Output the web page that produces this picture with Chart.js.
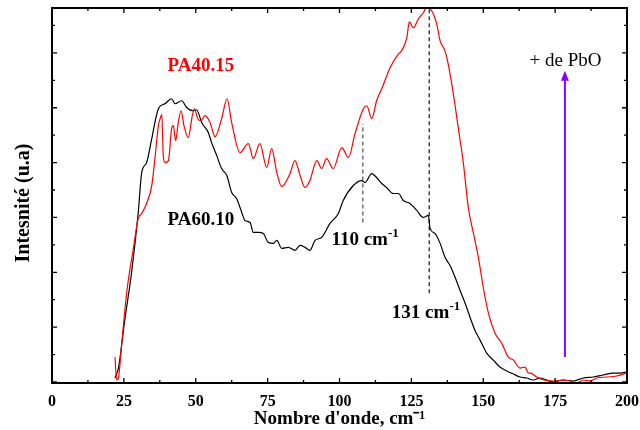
<!DOCTYPE html>
<html>
<head>
<meta charset="utf-8">
<script src="https://cdn.jsdelivr.net/npm/chart.js@4.4.1/dist/chart.umd.min.js"></script>
<style>
  html, body { margin: 0; padding: 0; background: #fff; }
  #wrap { width: 640px; height: 430px; }
</style>
</head>
<body>
<div id="wrap"><canvas id="raman"></canvas></div>
<script>
// PA60.10 (black)
const waveA = [21.9, 23.1, 25.4, 27.7, 30.0, 31.2, 32.9, 34.7, 37.0, 39.3, 41.6, 42.8, 45.1, 46.9, 49.1, 50.3, 52.1, 54.4, 55.5, 57.3, 59.0, 60.8, 62.5, 64.2, 66.0, 67.1, 68.9, 70.0, 71.8, 73.5, 75.2, 77.0, 78.2, 79.9, 82.2, 84.5, 86.3, 88.0, 89.7, 91.5, 93.8, 96.7, 99.6, 101.3, 104.8, 107.7, 108.9, 111.2, 112.9, 114.7, 116.4, 118.7, 120.5, 122.2, 124.5, 126.9, 129.1, 130.9, 131.5, 133.2, 135.0, 136.7, 138.4, 140.2, 141.9, 143.7, 145.4, 147.1, 148.9, 151.2, 153.5, 155.8, 158.2, 160.5, 162.8, 165.1, 167.4, 169.7, 172.1, 174.4, 177.8, 181.3, 184.8, 188.3, 191.8, 195.2, 197.6, 199.9];
const intA = [4, 14, 64, 110, 170, 210, 220, 244, 274, 279, 284, 279, 282, 275, 272, 273, 260, 250, 240, 227, 214, 207, 190, 184, 170, 162, 160, 150, 150, 149, 140, 139, 142, 134, 135, 132, 137, 135, 132, 142, 145, 159, 169, 182, 197, 202, 200, 209, 205, 199, 195, 189, 189, 182, 179, 172, 165, 167, 154, 149, 139, 125, 117, 105, 92, 79, 65, 52, 42, 29, 22, 15, 11, 8, 5, 4, 2, 4, 2, 0, 2, 1, 4, 5, 7, 9, 9, 10];

// PA40.15 (red)
const waveB = [21.9, 22.5, 23.1, 24.2, 26.0, 28.3, 30.0, 31.2, 32.9, 34.7, 35.8, 37.0, 37.6, 38.2, 38.7, 39.3, 40.5, 41.6, 42.2, 43.0, 43.9, 44.9, 45.9, 47.4, 48.8, 49.5, 50.7, 51.8, 53.2, 55.0, 56.7, 59.0, 60.9, 62.5, 65.4, 68.3, 70.0, 72.3, 74.7, 76.4, 78.2, 79.9, 82.8, 84.5, 86.3, 88.0, 89.7, 92.1, 93.8, 95.5, 97.8, 100.8, 103.1, 105.4, 108.3, 109.5, 111.2, 112.9, 114.7, 117.6, 120.5, 121.6, 123.4, 124.3, 125.7, 127.4, 129.1, 130.3, 132.1, 133.8, 135.0, 136.7, 137.8, 139.6, 141.3, 143.1, 144.8, 146.6, 148.3, 150.0, 151.8, 154.1, 156.4, 158.7, 160.5, 162.8, 164.5, 165.7, 166.3, 168.6, 171.0, 174.4, 177.8, 180.2, 182.5, 184.8, 187.1, 189.5, 193.0, 196.4, 199.9];
const intB = [25, 2, 4, 37, 90, 134, 164, 169, 179, 197, 224, 257, 264, 268, 227, 220, 222, 254, 257, 242, 260, 272, 257, 245, 267, 274, 264, 262, 267, 260, 246, 264, 284, 260, 230, 239, 224, 239, 215, 234, 210, 196, 209, 222, 207, 195, 202, 222, 214, 224, 214, 235, 225, 249, 274, 277, 264, 282, 294, 315, 329, 332, 345, 361, 355, 364, 370, 375, 372, 359, 342, 332, 319, 289, 255, 219, 175, 149, 125, 95, 69, 49, 39, 25, 22, 14, 15, 9, 9, 5, 2, 1, 2, 1, -1, 2, 1, 4, 5, 6, 9];

// band markers
const band110 = [108.1, 160, 259];   // x, y from, y to
const band131 = [131.2, 89, 374];
const arrowPbO = [178.4, 25, 312];

const xTicks = [0, 25, 50, 75, 100, 125, 150, 175, 200];
const yStep = 27.5;

const serif = "'Liberation Serif', 'Times New Roman', serif";

const toPts = (xs, ys) => xs.map((v, i) => ({ x: v, y: ys[i] }));

// frame, inner ticks, arrow and labels
const decor = {
    id: 'decor',
    afterDatasetsDraw(chart) {
        const { ctx, chartArea: a, scales: { x, y } } = chart;
        ctx.save();
        ctx.strokeStyle = '#000';
        ctx.lineWidth = 2;
        ctx.strokeRect(a.left, a.top, a.right - a.left, a.bottom - a.top);

        ctx.lineWidth = 1.3;
        ctx.beginPath();
        for (let v = 0; v <= 200; v += 12.5) {
            const px = x.getPixelForValue(v);
            const len = v % 25 === 0 ? 5 : 3;
            ctx.moveTo(px, a.bottom); ctx.lineTo(px, a.bottom - len);
            ctx.moveTo(px, a.top); ctx.lineTo(px, a.top + len);
        }
        for (let k = 0; k * yStep <= y.max; k++) {
            const py = y.getPixelForValue(k * yStep);
            const len = k % 2 === 0 ? 5 : 3;
            ctx.moveTo(a.left, py); ctx.lineTo(a.left + len, py);
            ctx.moveTo(a.right, py); ctx.lineTo(a.right - len, py);
        }
        ctx.stroke();

        // purple arrow
        const ax = x.getPixelForValue(arrowPbO[0]);
        const ay0 = y.getPixelForValue(arrowPbO[1]);
        const ay1 = y.getPixelForValue(arrowPbO[2]);
        ctx.strokeStyle = '#8a00ff';
        ctx.fillStyle = '#8a00ff';
        ctx.lineWidth = 2;
        ctx.beginPath();
        ctx.moveTo(ax, ay0); ctx.lineTo(ax, ay1 + 8);
        ctx.stroke();
        ctx.beginPath();
        ctx.moveTo(ax, ay1); ctx.lineTo(ax - 4, ay1 + 10); ctx.lineTo(ax + 4, ay1 + 10);
        ctx.closePath();
        ctx.fill();

        // labels
        const label = (txt, sup, vx, vy, color, weight) => {
            const main = weight + ' 19px ' + serif;
            const small = weight + ' 13px ' + serif;
            ctx.font = main;
            const w1 = ctx.measureText(txt).width;
            ctx.font = small;
            const w2 = sup ? ctx.measureText(sup).width : 0;
            const cx = x.getPixelForValue(vx) - (w1 + w2) / 2;
            const by = y.getPixelForValue(vy);
            ctx.fillStyle = color;
            ctx.textAlign = 'left';
            ctx.textBaseline = 'alphabetic';
            ctx.font = main;
            ctx.fillText(txt, cx, by);
            if (sup) {
                ctx.font = small;
                ctx.fillText(sup, cx + w1, by - 8);
            }
        };
        label('PA40.15', '', 51.8, 312, '#ff0000', 'bold');
        label('PA60.10', '', 51.8, 157, '#000', 'bold');
        label('110 cm', '-1', 108.9, 137, '#000', 'bold');
        label('131 cm', '-1', 130.1, 64, '#000', 'bold');
        label('+ de PbO', '', 178.6, 317, '#000', 'normal');
        ctx.restore();
    }
};

new Chart(document.getElementById('raman').getContext('2d'), {
    type: 'line',
    data: {
        datasets: [
            {
                label: 'PA40.15',
                data: toPts(waveB, intB),
                borderColor: '#ff0000',
                borderWidth: 1.2,
                pointRadius: 0,
                cubicInterpolationMode: 'monotone',
                fill: false
            },
            {
                label: 'PA60.10',
                data: toPts(waveA, intA),
                borderColor: '#000',
                borderWidth: 1.2,
                pointRadius: 0,
                cubicInterpolationMode: 'monotone',
                fill: false
            },
            {
                label: '110',
                data: [{ x: band110[0], y: band110[1] }, { x: band110[0], y: band110[2] }],
                borderColor: '#7a7a7a',
                borderWidth: 1.6,
                borderDash: [4, 3],
                pointRadius: 0
            },
            {
                label: '131',
                data: [{ x: band131[0], y: band131[1] }, { x: band131[0], y: band131[2] }],
                borderColor: '#000',
                borderWidth: 1.1,
                borderDash: [4, 3],
                pointRadius: 0
            }
        ]
    },
    options: {
        responsive: true,
        maintainAspectRatio: false,
        animation: false,
        layout: { padding: { top: 8, right: 13, left: 0, bottom: 0 } },
        plugins: {
            legend: { display: false },
            tooltip: { enabled: false }
        },
        scales: {
            x: {
                type: 'linear',
                min: 0,
                max: 200,
                afterBuildTicks: (s) => { s.ticks = xTicks.map(v => ({ value: v })); },
                afterFit: (s) => { s.height = 47; s.paddingLeft = 0; s.paddingRight = 0; },
                grid: { display: false, drawTicks: false },
                border: { display: false },
                ticks: {
                    padding: 9,
                    color: '#000',
                    font: { family: serif, size: 16, weight: 'bold' }
                },
                title: {
                    display: true,
                    text: "Nombre d'onde, cm\u207B\u00B9",
                    color: '#000',
                    padding: 0,
                    font: { family: serif, size: 19, weight: 'bold' }
                }
            },
            y: {
                type: 'linear',
                min: -1,
                max: 375,
                afterFit: (s) => { s.width = 52; },
                grid: { display: false, drawTicks: false },
                border: { display: false },
                ticks: { display: false },
                title: {
                    display: true,
                    text: 'Intesnité (u.a)\u00A0\u00A0\u00A0',
                    color: '#000',
                    padding: { top: 12, bottom: 0 },
                    font: { family: serif, size: 20, weight: 'bold' }
                }
            }
        }
    },
    plugins: [decor]
});
</script>
</body>
</html>
